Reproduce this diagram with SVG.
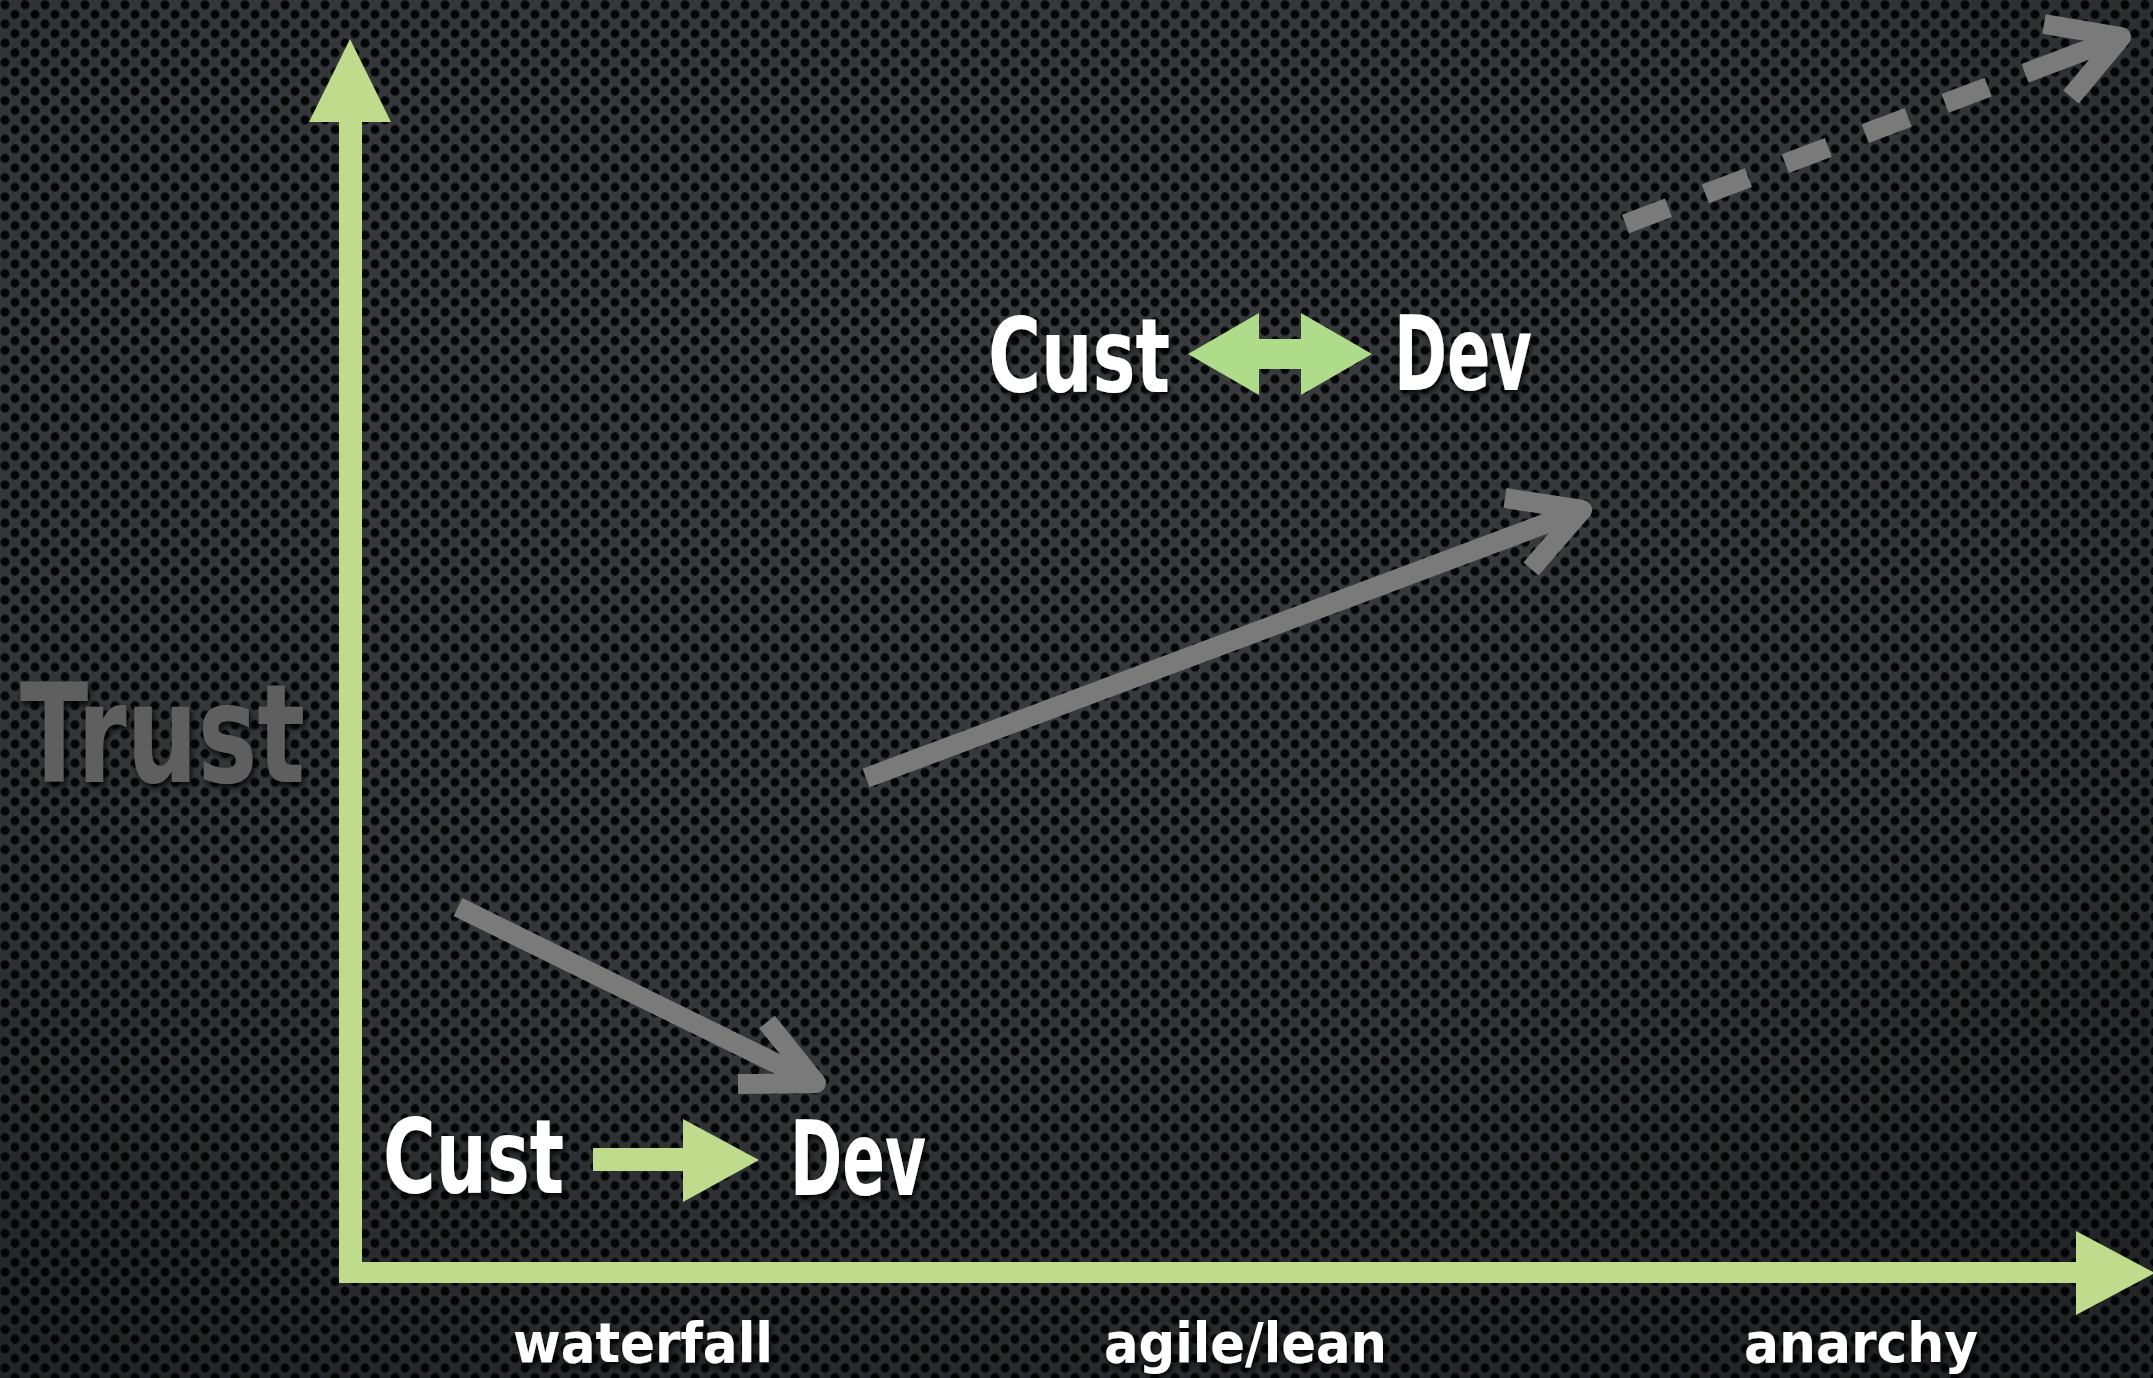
<svg xmlns="http://www.w3.org/2000/svg" width="2153" height="1378" viewBox="0 0 2153 1378">
<defs>
  <pattern id="holes" width="20" height="19.2" patternUnits="userSpaceOnUse">
    <rect width="20" height="19.2" fill="#3a3c40"/>
    <circle cx="5" cy="4.8" r="4.5" fill="#050607"/>
    <circle cx="15" cy="14.4" r="4.5" fill="#050607"/>
  </pattern>
  <radialGradient id="vig" cx="0.45" cy="0.3" r="0.8">
    <stop offset="0" stop-color="#000" stop-opacity="0"/>
    <stop offset="0.6" stop-color="#000" stop-opacity="0.12"/>
    <stop offset="1" stop-color="#000" stop-opacity="0.4"/>
  </radialGradient>
  <filter id="shadow" x="-10%" y="-20%" width="130%" height="150%">
    <feDropShadow dx="2" dy="4" stdDeviation="3" flood-color="#000" flood-opacity="0.85"/>
  </filter>
  <style>
    .lbl { font-family: "DejaVu Sans", "Liberation Sans", sans-serif; font-weight: bold; fill: #ffffff; }
    .big { font-size: 104px; }
    .axis-lbl { font-size: 55px; }
    .trust { font-size: 137px; fill: #5f5f5f; }
    .green { fill: #bfdb8c; }
    .gray { fill: none; stroke: #7a7a7a; stroke-width: 20; stroke-linecap: butt; stroke-linejoin: round; }
  </style>
</defs>

<rect width="2153" height="1378" fill="url(#holes)"/>
<rect width="2153" height="1378" fill="url(#vig)"/>

<g id="axes">
  <rect class="green" x="339" y="118" width="23" height="1165"/>
  <polygon class="green" points="309,122 350,39 391,122"/>
  <rect class="green" x="342" y="1262" width="1738" height="21"/>
  <polygon class="green" points="2076,1231 2155,1273 2076,1315"/>
</g>

<g id="trust-label">
  <text class="lbl trust" x="20" y="782" textLength="285" lengthAdjust="spacingAndGlyphs" filter="url(#shadow)">Trust</text>
</g>

<g id="x-labels">
  <text id="waterfall" class="lbl axis-lbl" x="513" y="1362" textLength="260" lengthAdjust="spacingAndGlyphs" filter="url(#shadow)">waterfall</text>
  <text id="agile-lean" class="lbl axis-lbl" x="1104" y="1362" textLength="283" lengthAdjust="spacingAndGlyphs" filter="url(#shadow)">agile/lean</text>
  <text id="anarchy" class="lbl axis-lbl" x="1744" y="1362" textLength="234" lengthAdjust="spacingAndGlyphs" filter="url(#shadow)">anarchy</text>
</g>

<g id="cust-top">
  <text class="lbl big" x="988" y="392" textLength="182" lengthAdjust="spacingAndGlyphs" filter="url(#shadow)">Cust</text>
</g>
<g id="dev-top">
  <text class="lbl big" x="1394" y="390" textLength="138" lengthAdjust="spacingAndGlyphs" filter="url(#shadow)">Dev</text>
</g>
<g id="cust-bottom">
  <text class="lbl big" x="383" y="1193" textLength="181" lengthAdjust="spacingAndGlyphs" filter="url(#shadow)">Cust</text>
</g>
<g id="dev-bottom">
  <text class="lbl big" x="790" y="1195" textLength="136" lengthAdjust="spacingAndGlyphs" filter="url(#shadow)">Dev</text>
</g>

<g id="connectors">
  <polygon fill="#aedc8a" points="1188,354 1259,313 1259,339 1301,339 1301,313 1372,354 1301,395 1301,369 1259,369 1259,395"/>
  <polygon class="green" points="593,1148 683,1148 683,1119 759,1160 683,1202 683,1171 593,1171"/>

  <line class="gray" x1="458" y1="907" x2="816" y2="1083"/>
  <polyline class="gray" points="767,1022 816,1083 738,1084"/>

  <line class="gray" x1="866" y1="778" x2="1582" y2="510"/>
  <polyline class="gray" points="1505,498 1582,510 1531,569"/>

  <line class="gray" stroke-width="19" x1="1625.5" y1="224" x2="2121" y2="37" stroke-dasharray="46 39.4 46 39.4 46 39.4 46 39.4 46 39.4 200 1"/>
  <polyline class="gray" points="2044,24 2121,37 2071,97"/>
</g>
</svg>
